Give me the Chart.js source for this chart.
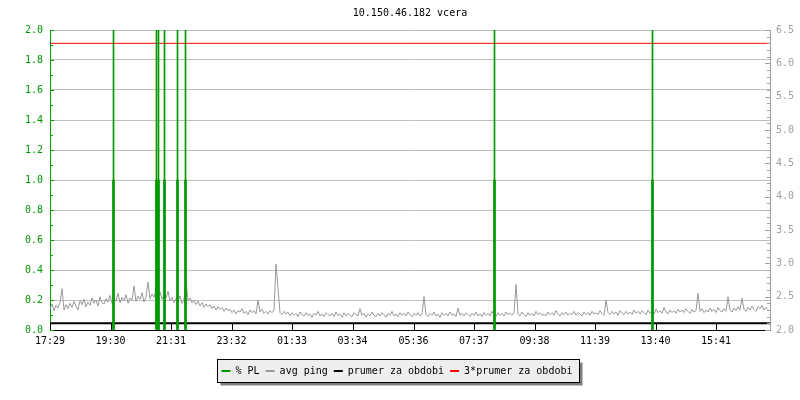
<!DOCTYPE html>
<html>
<head>
<meta charset="utf-8">
<title>10.150.46.182 vcera</title>
<script src="https://cdn.jsdelivr.net/npm/chart.js@4.4.1/dist/chart.umd.min.js"></script>
<style>
  html, body { margin: 0; padding: 0; background: #fff; }
  #wrap { width: 800px; height: 400px; }
</style>
</head>
<body>
<div id="wrap"><canvas id="chart" width="800" height="400"></canvas></div>
<script>
// time axis: minutes since 17:29 (one day)
const timeLabels = ['17:29', '19:30', '21:31', '23:32', '01:33', '03:34', '05:36', '07:37', '09:38', '11:39', '13:40', '15:41'];
const dayMinutes = 1440;

// % PL events (minutes since start), value at the thick part and the clipped peak
const plTimes = [127, 213, 217, 229, 255, 271, 889, 1205];
const plBase = [1.0, 1.0, 1.0, 1.0, 1.0, 1.0, 1.0, 1.0];
const plPeak = [2.0, 2.0, 2.0, 2.0, 2.0, 2.0, 2.0, 2.0];

// avg ping, one sample every 4 minutes (right axis)
const pingStep = 4;
const pingValues = [
  2.31, 2.39, 2.29, 2.37, 2.33, 2.41, 2.62, 2.30, 2.38, 2.32,
  2.40, 2.34, 2.43, 2.36, 2.30, 2.44, 2.38, 2.46, 2.35, 2.42,
  2.37, 2.48, 2.40, 2.45, 2.36, 2.50, 2.41, 2.39, 2.47, 2.42,
  2.52, 2.40, 2.47, 2.43, 2.55, 2.41, 2.49, 2.44, 2.53, 2.40,
  2.48, 2.45, 2.66, 2.43, 2.51, 2.46, 2.56, 2.42, 2.50, 2.72,
  2.47, 2.54, 2.49, 2.62, 2.51, 2.57, 2.46, 2.53, 2.48, 2.58,
  2.44, 2.49, 2.41, 2.47, 2.43, 2.51, 2.40, 2.46, 2.75, 2.44,
  2.48, 2.41, 2.45, 2.38, 2.43, 2.36, 2.41, 2.34, 2.39, 2.35,
  2.38, 2.32, 2.36, 2.30, 2.35, 2.31, 2.34, 2.28, 2.33, 2.29,
  2.31, 2.26, 2.30, 2.24, 2.29, 2.27, 2.32, 2.25, 2.28, 2.23,
  2.30, 2.26, 2.29, 2.24, 2.45, 2.27, 2.31, 2.25, 2.28, 2.24,
  2.29, 2.26, 2.30, 2.99, 2.62, 2.26, 2.23, 2.28, 2.24, 2.27,
  2.21, 2.26, 2.22, 2.25, 2.20, 2.27, 2.23, 2.21, 2.26, 2.22,
  2.24, 2.19, 2.25, 2.22, 2.28, 2.21, 2.24, 2.20, 2.26, 2.23,
  2.21, 2.25, 2.20, 2.27, 2.22, 2.24, 2.19, 2.26, 2.21, 2.25,
  2.22, 2.20, 2.26, 2.23, 2.21, 2.32, 2.22, 2.25, 2.19, 2.24,
  2.21, 2.27, 2.22, 2.20, 2.25, 2.21, 2.26, 2.23, 2.19, 2.25,
  2.22, 2.28, 2.21, 2.24, 2.20, 2.26, 2.22, 2.25, 2.21, 2.27,
  2.23, 2.20, 2.25, 2.22, 2.26, 2.21, 2.24, 2.50, 2.23, 2.20,
  2.25, 2.22, 2.27, 2.21, 2.24, 2.19, 2.26, 2.22, 2.25, 2.21,
  2.27, 2.22, 2.24, 2.20, 2.33, 2.22, 2.25, 2.21, 2.26, 2.23,
  2.20, 2.25, 2.22, 2.27, 2.21, 2.24, 2.20, 2.26, 2.22, 2.25,
  2.21, 2.28, 2.23, 2.20, 2.26, 2.22, 2.25, 2.21, 2.27, 2.23,
  2.25, 2.22, 2.26, 2.68, 2.24, 2.21, 2.27, 2.23, 2.20, 2.26,
  2.22, 2.25, 2.21, 2.28, 2.23, 2.26, 2.22, 2.24, 2.21, 2.27,
  2.23, 2.26, 2.22, 2.29, 2.24, 2.21, 2.26, 2.23, 2.27, 2.22,
  2.25, 2.23, 2.28, 2.22, 2.26, 2.24, 2.21, 2.27, 2.23, 2.26,
  2.22, 2.28, 2.24, 2.26, 2.23, 2.29, 2.25, 2.22, 2.45, 2.26,
  2.23, 2.28, 2.24, 2.27, 2.22, 2.29, 2.25, 2.23, 2.28, 2.24,
  2.27, 2.23, 2.30, 2.25, 2.28, 2.24, 2.29, 2.26, 2.23, 2.30,
  2.25, 2.28, 2.24, 2.31, 2.26, 2.29, 2.25, 2.34, 2.27, 2.24,
  2.30, 2.26, 2.29, 2.25, 2.31, 2.27, 2.30, 2.26, 2.32, 2.28,
  2.25, 2.31, 2.27, 2.29, 2.55, 2.28, 2.32, 2.26, 2.30, 2.27,
  2.33, 2.28, 2.31, 2.26, 2.34, 2.29, 2.27, 2.32, 2.28, 2.50,
  2.30, 2.27, 2.33, 2.29, 2.35, 2.30, 2.48, 2.31, 2.28, 2.34,
  2.30, 2.36, 2.31, 2.28, 2.35, 2.32, 2.37, 2.30, 2.34, 2.31
];

// period average and 3x average (right axis)
const meanPing = 2.1;
const tripleMean = 6.3;

const legendNames = ['% PL', 'avg ping', 'prumer za obdobi', '3*prumer za obdobi'];
const legendColors = ['#009900', '#999999', '#000000', '#ff0000'];

const GREEN = '#009900';
const GREY_AXIS = '#a0a0a0';
const FONT = { family: '"DejaVu Sans Mono", "Liberation Mono", monospace', size: 10 };

const toMinutes = (t) => {
  const [h, m] = t.split(':').map(Number);
  return h * 60 + m;
};
const startMinute = toMinutes(timeLabels[0]);
const tickMinutes = timeLabels.map((t) => (toMinutes(t) - startMinute + dayMinutes) % dayMinutes);

const hline = (ctx, x1, y1, x2, y2) => {
  ctx.beginPath();
  ctx.moveTo(x1, y1);
  ctx.lineTo(x2, y2);
  ctx.stroke();
};

// small inner ticks on the frame, like rrdtool draws them
const frameTicks = {
  id: 'frameTicks',
  afterDatasetsDraw(chart) {
    const { ctx, chartArea: a, scales } = chart;
    ctx.save();
    ctx.lineWidth = 1;

    ctx.strokeStyle = GREEN;
    for (let k = 0; k <= 20; k++) {
      const y = Math.round(scales.y.getPixelForValue(k / 10)) + 0.5;
      hline(ctx, a.left, y, a.left + (k % 2 === 0 ? 4 : 3), y);
    }

    ctx.strokeStyle = GREY_AXIS;
    for (let k = 20; k <= 65; k++) {
      const y = Math.round(scales.y2.getPixelForValue(k / 10)) + 0.5;
      hline(ctx, a.right, y, a.right - (k % 5 === 0 ? 5 : 3), y);
    }

    ctx.strokeStyle = '#000';
    tickMinutes.forEach((m) => {
      const x = Math.round(scales.x.getPixelForValue(m)) + 0.5;
      hline(ctx, x, a.bottom, x, a.bottom - 6);
    });
    ctx.restore();
  },
};

// framed legend with a drop shadow
const legendFrame = {
  id: 'legendFrame',
  afterDraw(chart) {
    const boxes = chart.legend && chart.legend.legendHitBoxes;
    if (!boxes || !boxes.length) return;
    const first = boxes[0];
    const last = boxes[boxes.length - 1];
    const left = Math.round(first.left - 5) + 0.5;
    const top = Math.round(first.top - 7) + 0.5;
    const right = Math.round(last.left + last.width + 7) + 0.5;
    const bottom = Math.round(first.top + 16) + 0.5;
    const { ctx } = chart;
    ctx.save();
    ctx.globalCompositeOperation = 'destination-over';
    ctx.fillStyle = '#eeeeee';
    ctx.fillRect(left, top, right - left, bottom - top);
    ctx.fillStyle = '#7f7f7f';
    ctx.fillRect(left + 3, top + 3, right - left, bottom - top);
    ctx.restore();
    ctx.save();
    ctx.strokeStyle = '#000';
    ctx.lineWidth = 1;
    ctx.strokeRect(left, top, right - left, bottom - top);
    ctx.restore();
  },
};

const ctx = document.getElementById('chart');

new Chart(ctx, {
  type: 'bar',
  data: {
    datasets: [
      {
        type: 'bar',
        label: legendNames[0],
        data: plTimes.map((t, i) => ({ x: t, y: plBase[i] })),
        backgroundColor: GREEN,
        borderWidth: 0,
        barThickness: 2,
        grouped: false,
        yAxisID: 'y',
        order: 0,
      },
      {
        type: 'line',
        label: legendNames[1],
        data: pingValues.map((v, i) => ({ x: i * pingStep, y: v })),
        borderColor: legendColors[1],
        borderWidth: 1,
        pointRadius: 0,
        tension: 0,
        yAxisID: 'y2',
        order: 2,
      },
      {
        type: 'line',
        label: legendNames[2],
        data: [{ x: 0, y: meanPing }, { x: dayMinutes, y: meanPing }],
        borderColor: legendColors[2],
        borderWidth: 2,
        pointRadius: 0,
        yAxisID: 'y2',
        order: 3,
      },
      {
        type: 'line',
        label: legendNames[3],
        data: [{ x: 0, y: tripleMean }, { x: dayMinutes, y: tripleMean }],
        borderColor: legendColors[3],
        borderWidth: 1,
        pointRadius: 0,
        yAxisID: 'y2',
        order: 4,
      },
      {
        type: 'bar',
        label: 'pl-peak',
        data: plTimes.map((t, i) => ({ x: t, y: plPeak[i] })),
        backgroundColor: GREEN,
        borderWidth: 0,
        barThickness: 1,
        grouped: false,
        yAxisID: 'y',
        order: 1,
      },
    ],
  },
  options: {
    responsive: false,
    animation: false,
    layout: { padding: { left: 0, right: 6, top: 0, bottom: 14 } },
    plugins: {
      title: {
        display: true,
        text: '10.150.46.182 vcera',
        color: '#000',
        font: { ...FONT, weight: 'normal' },
        padding: { top: 7, bottom: 11 },
        fullSize: false,
      },
      legend: {
        position: 'bottom',
        labels: {
          font: FONT,
          color: '#000',
          boxWidth: 9,
          boxHeight: 2,
          padding: 6,
          generateLabels: () => legendNames.map((text, i) => ({
            text,
            fillStyle: legendColors[i],
            strokeStyle: legendColors[i],
            lineWidth: 0,
            hidden: false,
            datasetIndex: i,
            fontColor: '#000',
          })),
        },
      },
      tooltip: { enabled: false },
    },
    scales: {
      x: {
        type: 'linear',
        min: 0,
        max: dayMinutes,
        offset: false,
        grid: { display: false, offset: false, drawTicks: false },
        border: { display: true, color: '#000', width: 1 },
        afterBuildTicks: (scale) => {
          scale.ticks = tickMinutes.map((value) => ({ value }));
        },
        afterFit: (scale) => { scale.height = 30; },
        ticks: {
          autoSkip: false,
          maxRotation: 0,
          padding: 5,
          color: '#000',
          font: FONT,
          callback: (value, index) => timeLabels[index],
        },
      },
      y: {
        type: 'linear',
        position: 'left',
        min: 0,
        max: 2,
        grid: { color: '#c0c0c0', lineWidth: 1, drawTicks: false },
        border: { color: GREEN, width: 1 },
        afterFit: (scale) => { scale.width = 50; },
        ticks: {
          stepSize: 0.2,
          padding: 7,
          color: GREEN,
          font: FONT,
          callback: (value) => Number(value).toFixed(1),
        },
      },
      y2: {
        type: 'linear',
        position: 'right',
        min: 2,
        max: 6.5,
        grid: { drawOnChartArea: false, drawTicks: false },
        border: { color: GREY_AXIS, width: 1 },
        afterFit: (scale) => { scale.width = 24; },
        ticks: {
          stepSize: 0.5,
          padding: 6,
          color: GREY_AXIS,
          font: FONT,
          callback: (value) => Number(value).toFixed(1),
        },
      },
    },
  },
  plugins: [frameTicks, legendFrame],
});
</script>
</body>
</html>
